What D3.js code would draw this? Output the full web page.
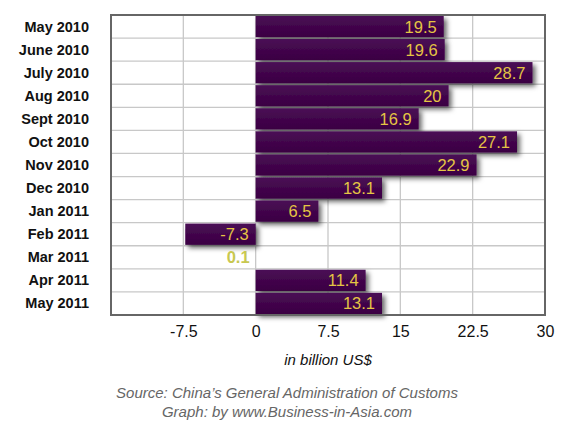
<!DOCTYPE html>
<html>
<head>
<meta charset="utf-8">
<script src="https://d3js.org/d3.v7.min.js"></script>
<style>
  body { margin: 0; background: #fff; }
  svg { display: block; font-family: "Liberation Sans", Arial, sans-serif; }
</style>
</head>
<body>
<div id="chart"></div>
<script>
const months = ["May 2010", "June 2010", "July 2010", "Aug 2010", "Sept 2010", "Oct 2010",
  "Nov 2010", "Dec 2010", "Jan 2011", "Feb 2011", "Mar 2011", "Apr 2011", "May 2011"];
const surplus = [19.5, 19.6, 28.7, 20, 16.9, 27.1, 22.9, 13.1, 6.5, -7.3, 0.1, 11.4, 13.1];
const xTicks = [-7.5, 0, 7.5, 15, 22.5, 30];

const width = 562, height = 427;
const margin = { top: 15, right: 17, bottom: 112, left: 111 };

const svg = d3.select("#chart").append("svg")
  .attr("width", width)
  .attr("height", height);

const defs = svg.append("defs");
const shadow = defs.append("filter").attr("id", "shadow")
  .attr("x", "-10%").attr("y", "-30%").attr("width", "130%").attr("height", "180%");
shadow.append("feDropShadow")
  .attr("dx", 3).attr("dy", 3).attr("stdDeviation", 2.5)
  .attr("flood-color", "#000").attr("flood-opacity", 0.6);

const grad = defs.append("linearGradient").attr("id", "barfill")
  .attr("x1", 0).attr("y1", 0).attr("x2", 0).attr("y2", 1);
grad.append("stop").attr("offset", "0%").attr("stop-color", "#4a0c55");
grad.append("stop").attr("offset", "100%").attr("stop-color", "#3a0042");

const x = d3.scaleLinear()
  .domain([-15, 30])
  .range([margin.left, width - margin.right]);

const y = d3.scaleBand()
  .domain(months)
  .range([margin.top, height - margin.bottom])
  .paddingInner(0.08)
  .paddingOuter(0.04);

const rowH = (height - margin.bottom - margin.top) / months.length;

// grid
const grid = svg.append("g").attr("stroke", "#c8c8c8").attr("stroke-width", 1.3);
grid.selectAll("line.v")
  .data(xTicks.filter(t => t < 30))
  .join("line")
  .attr("class", "v")
  .attr("x1", d => x(d)).attr("x2", d => x(d))
  .attr("y1", margin.top).attr("y2", height - margin.bottom);
grid.selectAll("line.h")
  .data(d3.range(1, months.length))
  .join("line")
  .attr("class", "h")
  .attr("x1", margin.left).attr("x2", width - margin.right)
  .attr("y1", i => margin.top + i * rowH)
  .attr("y2", i => margin.top + i * rowH);

// bars
svg.append("g")
  .selectAll("rect")
  .data(months.map((m, i) => ({ m, v: surplus[i] })).filter(d => Math.abs(d.v) >= 0.5))
  .join("rect")
  .attr("x", d => x(Math.min(0, d.v)))
  .attr("y", d => y(d.m))
  .attr("width", d => Math.abs(x(d.v) - x(0)))
  .attr("height", y.bandwidth())
  .attr("fill", "url(#barfill)")
  .attr("filter", "url(#shadow)");

// frame
svg.append("rect")
  .attr("x", margin.left).attr("y", margin.top)
  .attr("width", width - margin.right - margin.left)
  .attr("height", height - margin.bottom - margin.top)
  .attr("fill", "none")
  .attr("stroke", "#666")
  .attr("stroke-width", 2);

// value labels
svg.append("g")
  .attr("font-size", 16.5)
  .attr("text-anchor", "end")
  .selectAll("text")
  .data(months.map((m, i) => ({ m, v: surplus[i] })))
  .join("text")
  .attr("x", d => x(Math.max(0, d.v)) - 7)
  .attr("y", d => y(d.m) + y.bandwidth() / 2 + 6)
  .attr("fill", d => Math.abs(d.v) < 0.5 ? "#c8c850" : "#e4c444")
  .attr("font-weight", d => Math.abs(d.v) < 0.5 ? "bold" : null)
  .text(d => d.v);

// y axis labels
svg.append("g")
  .attr("font-size", 14.5)
  .attr("font-weight", "bold")
  .attr("text-anchor", "end")
  .attr("fill", "#111")
  .selectAll("text")
  .data(months)
  .join("text")
  .attr("x", 89)
  .attr("y", d => y(d) + y.bandwidth() / 2 + 5)
  .text(d => d);

// x axis
const xAxis = svg.append("g")
  .attr("transform", `translate(0,${height - margin.bottom})`)
  .call(d3.axisBottom(x).tickValues(xTicks).tickSize(0).tickPadding(11)
    .tickFormat(d => String(d)));
xAxis.select(".domain").remove();
xAxis.selectAll("text")
  .attr("font-size", 16)
  .attr("fill", "#111")
  .attr("font-family", "Liberation Sans, Arial, sans-serif");

svg.append("text")
  .attr("x", 328).attr("y", 365)
  .attr("text-anchor", "middle")
  .attr("font-size", 15)
  .attr("font-style", "italic")
  .attr("fill", "#111")
  .text("in billion US$");

svg.append("text")
  .attr("x", 287).attr("y", 398)
  .attr("text-anchor", "middle")
  .attr("font-size", 15)
  .attr("font-style", "italic")
  .attr("fill", "#666")
  .text("Source: China\u2019s General Administration of Customs");

svg.append("text")
  .attr("x", 287).attr("y", 417)
  .attr("text-anchor", "middle")
  .attr("font-size", 15)
  .attr("font-style", "italic")
  .attr("fill", "#666")
  .text("Graph: by www.Business-in-Asia.com");
</script>
</body>
</html>
